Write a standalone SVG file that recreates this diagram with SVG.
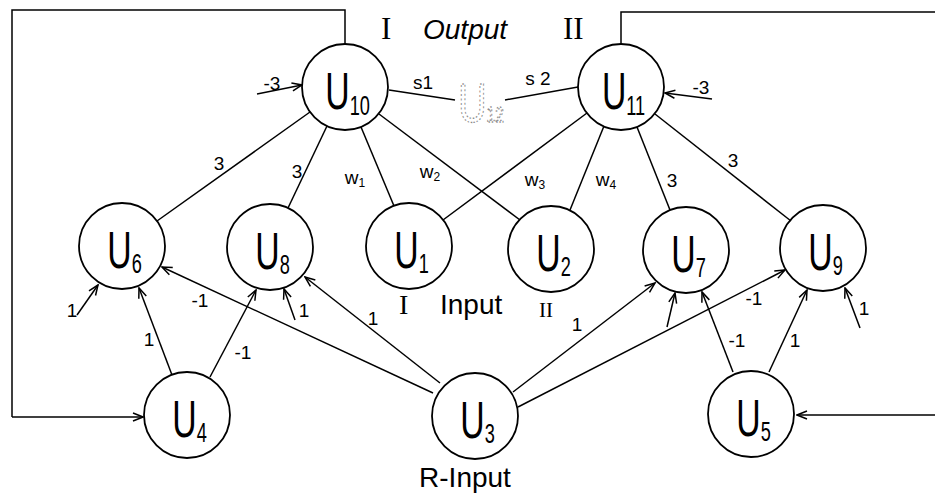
<svg xmlns="http://www.w3.org/2000/svg" width="935" height="495" viewBox="0 0 935 495">
<style>
  .bg { fill: #ffffff; }
  .node circle { fill: none; stroke: #000; stroke-width: 1.8; }
  .nt { font-family: "Liberation Sans Narrow", "Liberation Sans", sans-serif; font-size: 52px; fill: #000; text-anchor: middle; }
  .sub { font-size: 28px; }
  .edge { fill: none; stroke: #000; stroke-width: 1.5; }
  .arr { fill: none; stroke: #000; stroke-width: 1.5; marker-end: url(#ah); }
  .lbl { font-family: "Liberation Sans", sans-serif; font-size: 19px; fill: #000; text-anchor: middle; }
  .wl { font-family: "Liberation Sans", sans-serif; font-size: 19px; fill: #000; text-anchor: middle; }
  .ws { font-size: 12px; }
  .big { font-family: "Liberation Sans", sans-serif; font-size: 28px; fill: #000; }
  .rom { font-family: "Liberation Serif", serif; }
  .faint { font-family: "Liberation Sans Narrow", "Liberation Sans", sans-serif; font-size: 56px; fill: none; stroke: #8a8a8a; stroke-width: 1.3; stroke-dasharray: 2 2.5; text-anchor: middle; }
</style>
<defs>
  <marker id="ah" viewBox="0 0 12 10" refX="11" refY="5" markerWidth="12" markerHeight="10" markerUnits="userSpaceOnUse" orient="auto">
    <path d="M1,1 L11,5 L1,9" fill="none" stroke="#000" stroke-width="1.5"/>
  </marker>
</defs>
<rect class="bg" x="0" y="0" width="935" height="495"/>

<g id="connectors">
  <!-- feedback loops -->
  <polyline class="edge" points="345,44 345,10 12,10 12,417" />
  <line class="arr" x1="12" y1="417" x2="143" y2="417"/>
  <polyline class="edge" points="621,44 621,12 935,12" />
  <line class="arr" x1="935" y1="415" x2="797" y2="415"/>

  <!-- U10 edges -->
  <line class="edge" x1="310" y1="112" x2="157" y2="221"/>
  <line class="edge" x1="327" y1="126" x2="288" y2="208"/>
  <line class="edge" x1="361" y1="127" x2="394" y2="206"/>
  <line class="edge" x1="379" y1="114" x2="520" y2="220"/>
  <!-- U11 edges -->
  <line class="edge" x1="587" y1="113" x2="443" y2="220"/>
  <line class="edge" x1="604" y1="126" x2="570" y2="210"/>
  <line class="edge" x1="637" y1="127" x2="670" y2="210"/>
  <line class="edge" x1="655" y1="114" x2="791" y2="221"/>
  <!-- s1, s2 -->
  <line class="edge" x1="389" y1="90" x2="455" y2="100"/>
  <line class="edge" x1="505" y1="100" x2="578" y2="87"/>

  <!-- bias inputs -->
  <line class="arr" x1="257" y1="94" x2="302" y2="85"/>
  <line class="arr" x1="712" y1="99" x2="665" y2="93"/>

  <!-- U6 inputs -->
  <line class="arr" x1="77" y1="315" x2="98" y2="285"/>
  <line class="arr" x1="172" y1="375" x2="139" y2="288"/>
  <line class="arr" x1="433" y1="393" x2="162" y2="267"/>
  <!-- U8 inputs -->
  <line class="arr" x1="210" y1="377" x2="256" y2="290"/>
  <line class="arr" x1="295" y1="320" x2="284" y2="289"/>
  <line class="arr" x1="440" y1="383" x2="305" y2="277"/>
  <!-- U7 inputs -->
  <line class="arr" x1="513" y1="392" x2="655" y2="283"/>
  <line class="arr" x1="667" y1="327" x2="675" y2="293"/>
  <line class="arr" x1="733" y1="372" x2="702" y2="292"/>
  <!-- U9 inputs -->
  <line class="arr" x1="518" y1="407" x2="785" y2="270"/>
  <line class="arr" x1="769" y1="372" x2="807" y2="290"/>
  <line class="arr" x1="860" y1="328" x2="845" y2="288"/>

  <!-- labels -->
  <text class="lbl" x="219" y="170">3</text>
  <text class="lbl" x="297" y="178">3</text>
  <text class="wl" x="355" y="184">w<tspan class="ws" dy="3">1</tspan></text>
  <text class="wl" x="430" y="178">w<tspan class="ws" dy="3">2</tspan></text>
  <text class="wl" x="535" y="186">w<tspan class="ws" dy="3">3</tspan></text>
  <text class="wl" x="606" y="186">w<tspan class="ws" dy="3">4</tspan></text>
  <text class="lbl" x="672" y="187">3</text>
  <text class="lbl" x="733" y="167">3</text>
  <text class="wl" x="423" y="89">s1</text>
  <text class="wl" x="538" y="85">s 2</text>
  <text class="lbl" x="272" y="90">-3</text>
  <text class="lbl" x="701" y="94">-3</text>

  <text class="lbl" x="72" y="317">1</text>
  <text class="lbl" x="149" y="346">1</text>
  <text class="lbl" x="200" y="307">-1</text>
  <text class="lbl" x="243" y="359">-1</text>
  <text class="lbl" x="304" y="317">1</text>
  <text class="lbl" x="373" y="325">1</text>
  <text class="lbl" x="577" y="331">1</text>
  <text class="lbl" x="754" y="305">-1</text>
  <text class="lbl" x="737" y="347">-1</text>
  <text class="lbl" x="795" y="347">1</text>
  <text class="lbl" x="864" y="315">1</text>
</g>

<!-- titles -->
<text class="big" y="39"><tspan class="rom" x="381" font-size="31">I</tspan><tspan x="423" font-style="italic">Output</tspan><tspan class="rom" x="563" font-size="31">II</tspan></text>
<text class="big" y="314" font-size="26"><tspan class="rom" x="399" font-size="28">I</tspan><tspan x="440">Input</tspan><tspan class="rom" x="539" font-size="21" dy="3">II</tspan></text>
<text class="big" x="465" y="487" text-anchor="middle" font-size="25">R-Input</text>

<!-- faint U12 -->
<g id="U12">
  <text class="faint" transform="translate(481,122) scale(0.7,1)">U<tspan font-size="22">12</tspan></text>
</g>

<g id="U10" class="node" transform="translate(345,87)"><circle r="43"/><text class="nt" transform="scale(0.65,1)" x="4" y="22">U<tspan class="sub" dy="6">10</tspan></text></g>
<g id="U11" class="node" transform="translate(621,87)"><circle r="43"/><text class="nt" transform="scale(0.65,1)" x="4" y="22">U<tspan class="sub" dy="6">11</tspan></text></g>
<g id="U6" class="node" transform="translate(122,246)"><circle r="43"/><text class="nt" transform="scale(0.65,1)" x="4" y="22">U<tspan class="sub" dy="5">6</tspan></text></g>
<g id="U8" class="node" transform="translate(270,247)"><circle r="43"/><text class="nt" transform="scale(0.65,1)" x="4" y="22">U<tspan class="sub" dy="5">8</tspan></text></g>
<g id="U1" class="node" transform="translate(409,246)"><circle r="43"/><text class="nt" transform="scale(0.65,1)" x="4" y="22">U<tspan class="sub" dy="5">1</tspan></text></g>
<g id="U2" class="node" transform="translate(551,249)"><circle r="43"/><text class="nt" transform="scale(0.65,1)" x="4" y="22">U<tspan class="sub" dy="5">2</tspan></text></g>
<g id="U7" class="node" transform="translate(686,250)"><circle r="43"/><text class="nt" transform="scale(0.65,1)" x="4" y="22">U<tspan class="sub" dy="5">7</tspan></text></g>
<g id="U9" class="node" transform="translate(823,248)"><circle r="43"/><text class="nt" transform="scale(0.65,1)" x="4" y="22">U<tspan class="sub" dy="5">9</tspan></text></g>
<g id="U4" class="node" transform="translate(187,415)"><circle r="43"/><text class="nt" transform="scale(0.65,1)" x="4" y="22">U<tspan class="sub" dy="5">4</tspan></text></g>
<g id="U3" class="node" transform="translate(475,416)"><circle r="43"/><text class="nt" transform="scale(0.65,1)" x="4" y="22">U<tspan class="sub" dy="5">3</tspan></text></g>
<g id="U5" class="node" transform="translate(751,414)"><circle r="43"/><text class="nt" transform="scale(0.65,1)" x="4" y="22">U<tspan class="sub" dy="5">5</tspan></text></g>
</svg>
